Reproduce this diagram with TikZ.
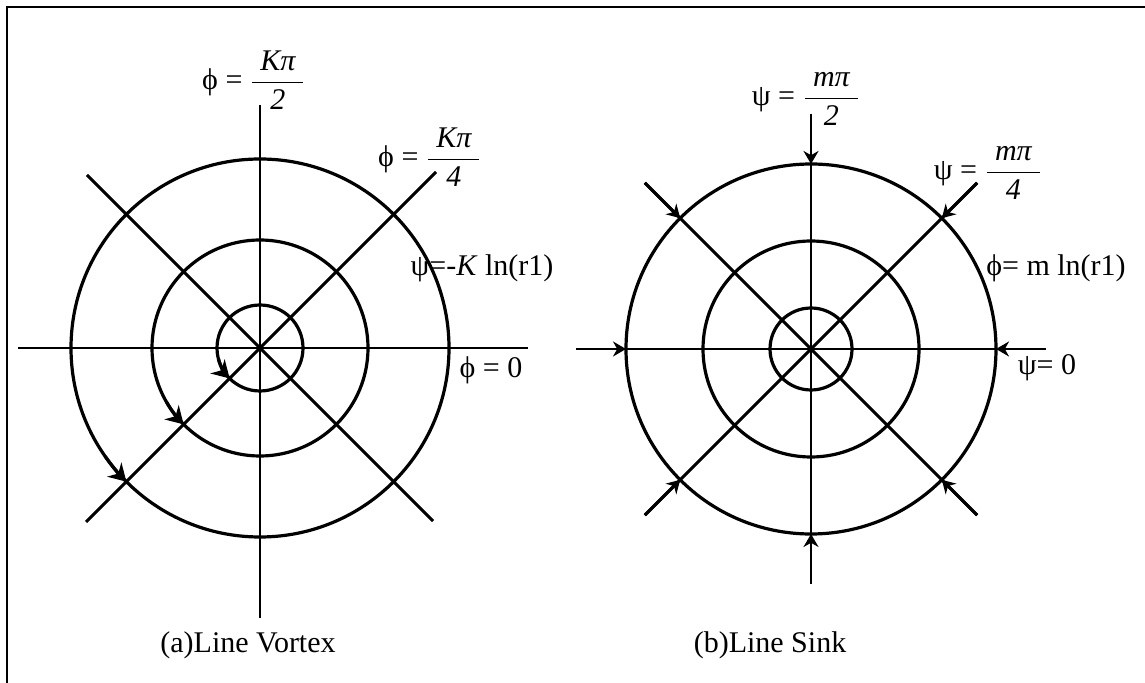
\documentclass[tikz,border=0pt]{standalone}
\usepackage{fontspec}
\setmainfont{Liberation Serif}
\usetikzlibrary{arrows.meta, calc}

\newcommand{\stackfrac}[2]{$\displaystyle\frac{\;\textit{#1}\;}{\textit{#2}}$}

\begin{document}
\begin{tikzpicture}[x=0.5pt, y=-0.5pt, font=\fontsize{15}{18}\selectfont,
  ray/.style={line width=1.45pt},
  ring/.style={line width=1.6pt},
  spin/.style={line width=1.6pt, -{Stealth[length=8.5pt,width=10pt]}},
  inflow/.style={line width=1.45pt, -{Stealth[length=6.5pt,width=7.5pt]}},
  lbl/.style={inner sep=0pt}]
  \useasboundingbox (0,0) rectangle (1145,683);
  \draw[line width=1.2pt] (7,683) -- (7,7) -- (1145,7);
  % (a) line vortex
  \coordinate (oa) at (260,348);
  \draw[ray] ($(oa)+(-242,0)$) -- ($(oa)+(268,0)$);
  \draw[ray] ($(oa)+(0,-243)$) -- ($(oa)+(0,270)$);
  \draw[ray] ($(oa)+(-173,-173)$) -- ($(oa)+(173,173)$);
  \draw[ray] ($(oa)+(-174,174)$) -- ($(oa)+(176,-176)$);
  \foreach \r in {43,108,189} \draw[ring] (oa) circle (\r);
  \draw[spin] (oa) ++(165:43) arc (165:135:43);
  \draw[spin] (oa) ++(150:108) arc (150:135:108);
  \draw[spin] (oa) ++(145:189) arc (145:135:189);
  \node[lbl] (phiA2) at (254,80) {ϕ = \stackfrac{Kπ}{2}};
  \node[lbl] (phiA4) at (430,157) {ϕ = \stackfrac{Kπ}{4}};
  \node[lbl] (psiA) at (482,268) {ψ=-\textit{K} ln(r1)};
  \node[lbl] (phiA0) at (491,370) {ϕ = 0};
  \node[lbl] (capA) at (248,645) {(a)Line Vortex};
  % (b) line sink
  \coordinate (ob) at (811,349);
  \foreach \a in {0,45,...,315} \draw[ray] (ob) -- ($(ob)+(\a:235)$);
  \foreach \r in {41,108,185} \draw[ring] (ob) circle (\r);
  \foreach \a in {0,45,...,315} \draw[inflow] ($(ob)+(\a:235)$) -- ($(ob)+(\a:185)$);
  \node[lbl] (psiB2) at (806,99) {ψ = \stackfrac{mπ}{2}};
  \node[lbl] (psiB4) at (988,173) {ψ = \stackfrac{mπ}{4}};
  \node[lbl] (phiB) at (1056,268) {ϕ= m ln(r1)};
  \node[lbl] (psiB0) at (1047,368) {ψ= 0};
  \node[lbl] (capB) at (770,645) {(b)Line Sink};
\end{tikzpicture}
\end{document}
